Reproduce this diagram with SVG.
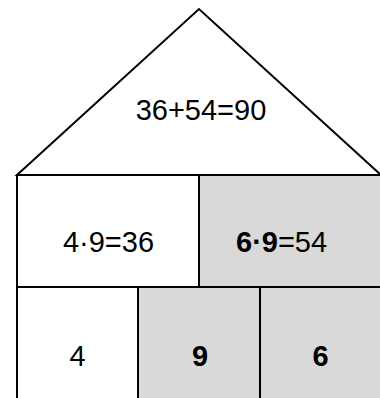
<svg xmlns="http://www.w3.org/2000/svg" width="380" height="398" viewBox="0 0 380 398">
<style>
.s{stroke:#000;stroke-width:2;}
.w{fill:#fff;}
.g{fill:#d9d9d9;}
text{font-family:"Liberation Sans",Arial,sans-serif;font-size:29px;fill:#000;}
.b{font-weight:bold;}
</style>
<rect width="380" height="398" fill="#fff"/>
<g id="roof"><polygon class="s w" points="17,175 199,9 381,175"/><text x="201" y="120" text-anchor="middle">36+54=90</text></g>
<g id="left-product"><rect class="s w" x="17" y="175" width="182" height="112"/><text x="108.5" y="252" text-anchor="middle">4·9=36</text></g>
<g id="right-product"><rect class="s g" x="199" y="175" width="182" height="112"/><text x="236" y="252"><tspan class="b">6·9</tspan>=54</text></g>
<g id="n4"><rect class="s w" x="17" y="287" width="121" height="120"/><text x="77.5" y="366" text-anchor="middle">4</text></g>
<g id="n9"><rect class="s g" x="138" y="287" width="122" height="120"/><text x="200" y="366" text-anchor="middle" class="b">9</text></g>
<g id="n6"><rect class="s g" x="260" y="287" width="121" height="120"/><text x="320.5" y="366" text-anchor="middle" class="b">6</text></g>
</svg>
